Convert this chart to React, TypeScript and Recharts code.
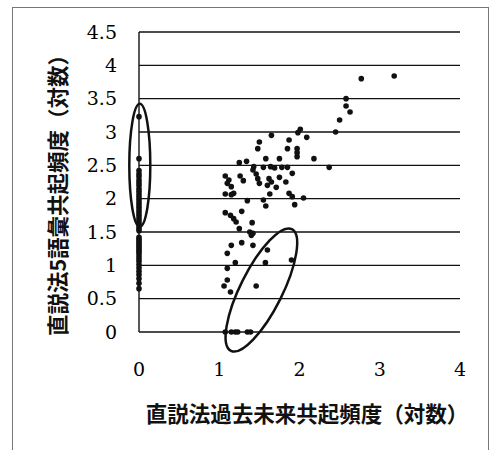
import { ScatterChart, Scatter, XAxis, YAxis, ZAxis, CartesianGrid, ReferenceDot } from "recharts";

// x=0 の縦列（過去未来共起なし）
const zeroColumnY = [
  3.23, 2.6, 2.42, 2.37, 2.33, 2.28, 2.24, 2.2, 2.15, 2.11, 2.07, 2.03, 1.99, 1.95, 1.91,
  1.87, 1.83, 1.79, 1.75, 1.71, 1.67, 1.63, 1.59, 1.55, 1.52, 1.42, 1.39, 1.36, 1.33, 1.3,
  1.27, 1.24, 1.21, 1.18, 1.14, 1.1, 1.06, 1.01, 0.96, 0.91, 0.86, 0.8, 0.73, 0.65,
];

// 右側の散布点 [過去未来, 5語彙]
const cloudPoints: [number, number][] = [
  [2.77, 3.8], [3.18, 3.84], [2.58, 3.5], [2.58, 3.39], [2.63, 3.3], [2.5, 3.18], [2.45, 3.0],
  [2.37, 2.47], [2.09, 2.92], [2.01, 3.04], [1.98, 2.99], [1.97, 2.75], [1.97, 2.69],
  [1.97, 2.63], [1.87, 2.88], [1.85, 2.75], [2.18, 2.6], [1.65, 2.95], [1.5, 2.85],
  [1.48, 2.75], [1.58, 2.6], [1.75, 2.6], [1.25, 2.54], [1.34, 2.56], [1.43, 2.48],
  [1.55, 2.47], [1.64, 2.48], [1.69, 2.46], [1.78, 2.47], [1.85, 2.47], [1.91, 2.38],
  [1.075, 2.34], [1.12, 2.28], [1.1, 2.23], [1.15, 2.18], [1.26, 2.34], [1.3, 2.27],
  [1.42, 2.43], [1.46, 2.37], [1.48, 2.3], [1.5, 2.23], [1.62, 2.3], [1.65, 2.25],
  [1.6, 2.2], [1.75, 2.32], [1.83, 2.25], [1.71, 2.17], [1.63, 2.07], [1.075, 2.07],
  [1.15, 2.06], [1.18, 2.08], [1.35, 1.97], [1.55, 1.98], [1.58, 1.89], [1.87, 2.08],
  [1.91, 2.03], [1.94, 1.91], [2.05, 2.01], [1.28, 1.81], [1.075, 1.79], [1.14, 1.75],
  [1.18, 1.7], [1.21, 1.65], [1.41, 1.64], [1.25, 1.55], [1.38, 1.5], [1.4, 1.45],
  [1.42, 1.48], [1.15, 1.3], [1.28, 1.34], [1.42, 1.3], [1.1, 1.18], [1.6, 1.23],
  [1.2, 1.04], [1.575, 1.04], [1.9, 1.08], [1.1, 0.955], [1.1, 0.78], [1.06, 0.69],
  [1.14, 0.6], [1.46, 0.69], [1.075, 0], [1.15, 0], [1.2, 0], [1.23, 0], [1.35, 0], [1.39, 0],
];

const xTicks = [0, 1, 2, 3, 4];
const yTicks = [0, 0.5, 1, 1.5, 2, 2.5, 3, 3.5, 4, 4.5];

const zeroData = zeroColumnY.map((y) => ({ x: 0, y }));
const cloudData = cloudPoints.map(([x, y]) => ({ x, y }));

const tickFont = { fontFamily: "DejaVu Serif", fontSize: 19, fill: "#000" };
const labelFont: React.CSSProperties = {
  position: "absolute",
  fontFamily: "'Noto Sans CJK JP'",
  fontWeight: 700,
  fontSize: 21.5,
  color: "#111",
  whiteSpace: "nowrap",
  lineHeight: 1,
};

const Dot = (p: any) => <circle cx={p.cx} cy={p.cy} r={2.8} fill="#111" />;

const Ellipse = ({ rx, ry, angle }: { rx: number; ry: number; angle: number }) => (p: any) => (
  <ellipse
    cx={p.cx}
    cy={p.cy}
    rx={rx}
    ry={ry}
    fill="none"
    stroke="#111"
    strokeWidth={2.5}
    transform={`rotate(${angle} ${p.cx} ${p.cy})`}
  />
);

export default function App() {
  return (
    <div style={{ position: "absolute", left: 0, top: 0, width: 490, height: 450, background: "#fff", overflow: "hidden" }}>
      <div style={{ position: "absolute", left: 12, top: 7, width: 475, height: 450, border: "1px solid #777", borderBottom: "none" }} />
      <ScatterChart width={490} height={450} margin={{ top: 32, right: 30, bottom: 88, left: 99 }}>
        <CartesianGrid vertical={false} stroke="#111" strokeWidth={1.4} />
        <XAxis
          type="number"
          dataKey="x"
          domain={[0, 4]}
          ticks={xTicks}
          axisLine={false}
          tickLine={false}
          tickSize={0}
          tickMargin={31}
          height={30}
          tick={tickFont}
          interval={0}
        />
        <YAxis
          type="number"
          dataKey="y"
          domain={[0, 4.5]}
          ticks={yTicks}
          axisLine={{ stroke: "#111", strokeWidth: 1.4 }}
          tickLine={false}
          tickSize={0}
          tickMargin={22}
          width={40}
          tick={tickFont}
          interval={0}
        />
        <ZAxis range={[30, 30]} />
        <Scatter data={zeroData} shape={Dot} isAnimationActive={false} />
        <Scatter data={cloudData} shape={Dot} isAnimationActive={false} />
        <ReferenceDot x={0.01} y={2.5} ifOverflow="visible" shape={Ellipse({ rx: 10.5, ry: 61.5, angle: 0 })} />
        <ReferenceDot x={1.525} y={0.63} ifOverflow="visible" shape={Ellipse({ rx: 68, ry: 21, angle: -63.4 })} />
      </ScatterChart>
      <div style={{ ...labelFont, left: 57, top: 190, transform: "translate(-50%, -50%) rotate(-90deg)" }}>
        直説法5語彙共起頻度（対数）
      </div>
      <div style={{ ...labelFont, left: 307, top: 413, transform: "translate(-50%, -50%)" }}>
        直説法過去未来共起頻度（対数）
      </div>
    </div>
  );
}
